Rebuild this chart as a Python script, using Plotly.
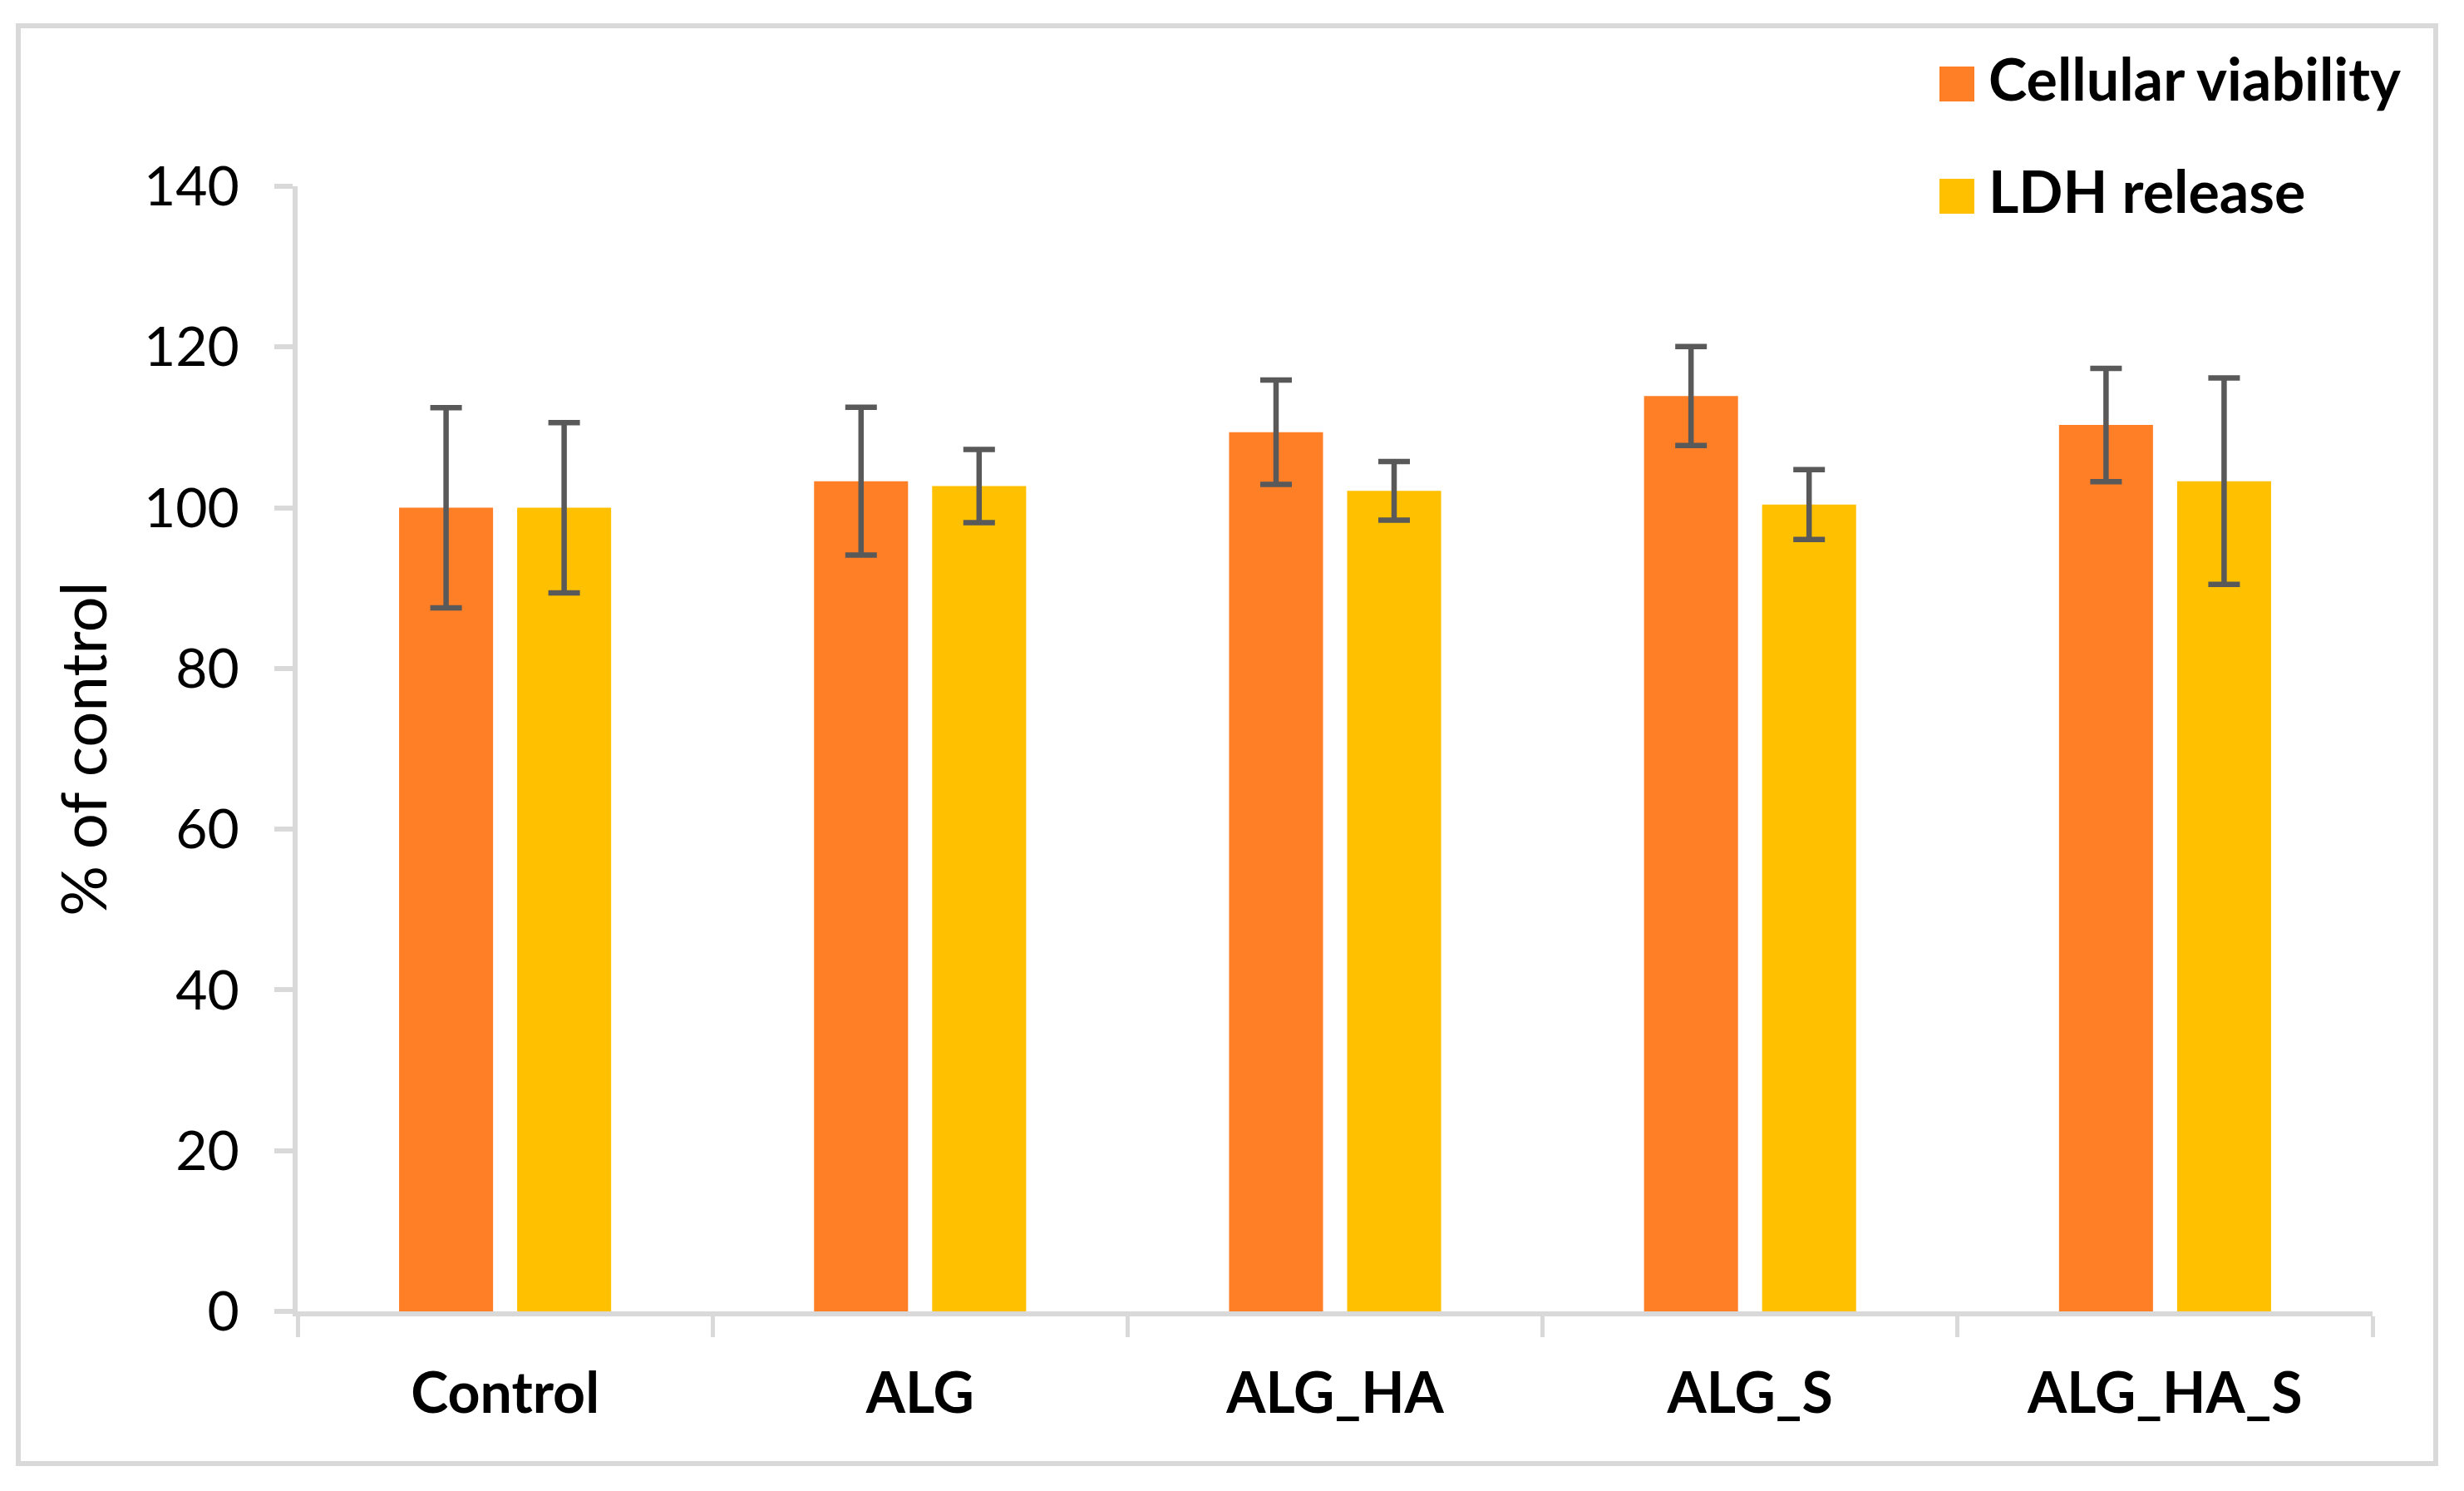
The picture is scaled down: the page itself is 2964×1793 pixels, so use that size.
import plotly.graph_objects as go

categories = ["Control", "ALG", "ALG_HA", "ALG_S", "ALG_HA_S"]
viability = [100.0, 103.3, 109.4, 113.9, 110.3]
viability_err = [12.45, 9.2, 6.5, 6.15, 7.05]
ldh = [100.0, 102.7, 102.1, 100.4, 103.3]
ldh_err = [10.6, 4.55, 3.65, 4.35, 12.85]
series_names = ["Cellular viability", "LDH release"]
series_colors = ["#FF7F27", "#FFC000"]
y_ticks = [0, 20, 40, 60, 80, 100, 120, 140]

# The page body has an 8px margin; lay out in page pixels and shift.
OFF = 8
PAGE_W, PAGE_H = 2964, 1793
W, H = PAGE_W - 2 * OFF, PAGE_H - 2 * OFF
plot_x0, plot_x1 = 358, 2854   # page px
plot_y0, plot_y1 = 224, 1577   # page px (top, bottom)
L = plot_x0 - OFF
R = W - (plot_x1 - OFF)
T = plot_y0 - OFF
B = H - (plot_y1 - OFF)
pw, ph = plot_x1 - plot_x0, plot_y1 - plot_y0

def px(x):
    return (x - plot_x0) / pw

def py(y):
    return (plot_y1 - y) / ph

FONT = "Lato"
fig = go.Figure()
err_style = dict(type="data", color="#595959", thickness=6.5, width=19, visible=True)
for name, vals, errs, col in [
    (series_names[0], viability, viability_err, series_colors[0]),
    (series_names[1], ldh, ldh_err, series_colors[1]),
]:
    fig.add_trace(go.Bar(
        x=categories, y=vals, name=name,
        marker=dict(color=col, line=dict(width=0)),
        error_y=dict(array=errs, **err_style),
        showlegend=False,
    ))

shapes = [
    dict(type="rect", xref="paper", yref="paper",
         x0=px(22), x1=px(2930), y0=py(1760), y1=py(31),
         line=dict(color="#D9D9D9", width=6), fillcolor="rgba(0,0,0,0)", layer="below"),
]
annotations = []
leg_rows = [(80, 122), (215, 257)]
for (ytop, ybot), name, col in zip(leg_rows, series_names, series_colors):
    shapes.append(dict(type="rect", xref="paper", yref="paper",
                       x0=px(2333), x1=px(2375), y0=py(ybot), y1=py(ytop),
                       line=dict(width=0), fillcolor=col))
    annotations.append(dict(xref="paper", yref="paper", x=px(2390), y=py((ytop + ybot) / 2),
                            xanchor="left", yanchor="middle", showarrow=False, yshift=7,
                            text="<b>" + name + "</b>",
                            font=dict(family=FONT, size=70, color="black")))

fig.update_layout(
    width=W, height=H,
    margin=dict(l=L, r=R, t=T, b=B, autoexpand=False),
    paper_bgcolor="white", plot_bgcolor="white",
    barmode="group", bargap=0.431, bargroupgap=0.204,
    showlegend=False,
    font=dict(family=FONT, color="black"),
    shapes=shapes, annotations=annotations,
)
fig.update_xaxes(
    showline=True, linecolor="#D9D9D9", linewidth=6,
    ticks="outside", tickson="boundaries", ticklen=25, tickwidth=5, tickcolor="#D9D9D9",
    tickfont=dict(family=FONT, size=68, color="black", weight="bold"),
    ticklabelstandoff=34, showgrid=False, zeroline=False,
)
fig.update_yaxes(
    range=[0, 140], tickvals=y_ticks, showline=True, linecolor="#D9D9D9", linewidth=6,
    ticks="outside", ticklen=22, tickwidth=6, tickcolor="#D9D9D9",
    tickfont=dict(family=FONT, size=66, color="black"),
    ticklabelstandoff=29, showgrid=False, zeroline=False,
    title=dict(text="% of control", font=dict(family=FONT, size=76, color="black"), standoff=21),
)

fig.write_html("out.html")
